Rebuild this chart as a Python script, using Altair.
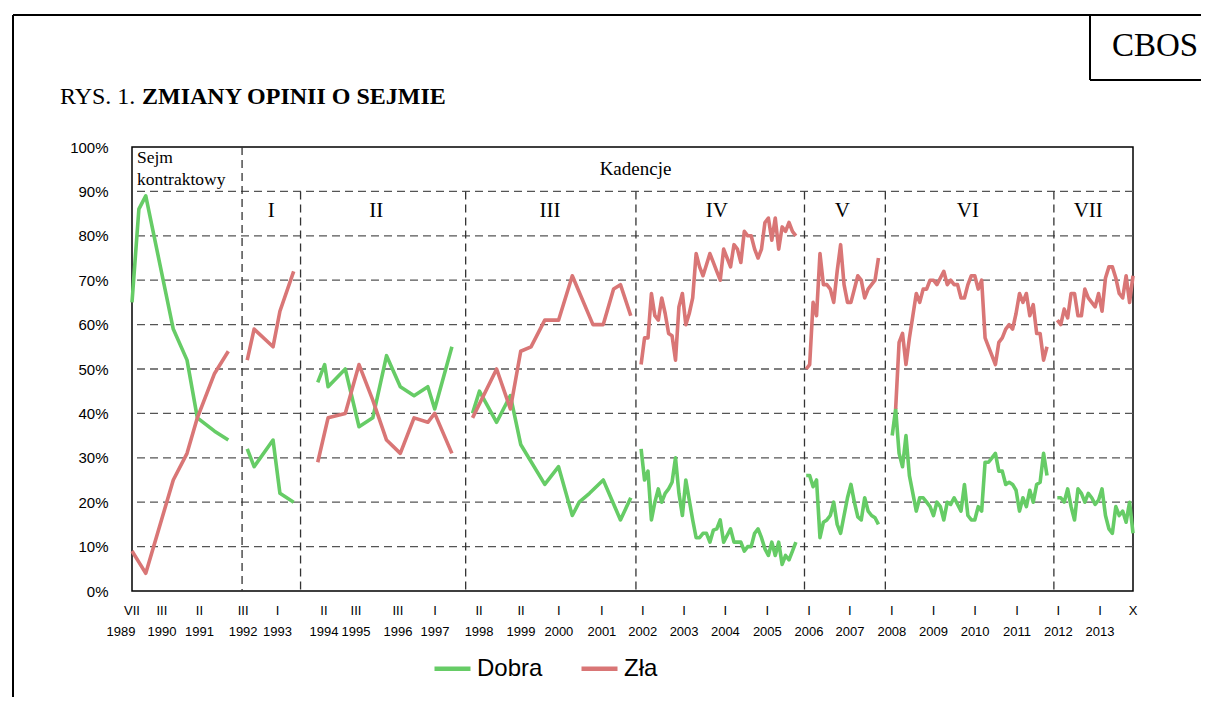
import altair as alt
import pandas as pd

GREEN = "#66cc66"
RED = "#d97676"
SANS = "Liberation Sans"
SERIF = "Liberation Serif"

# x = position in months since January 1989 (0 = I 1989)
# --- Sejm kontraktowy
k_months = [6, 8, 10, 18, 22, 25, 30, 34]
k_dobra = [65, 86, 89, 59, 52, 39, 36, 34]
k_zla = [9, 6.5, 4, 25, 31, 39, 49, 54]
# --- I kadencja
i_months = [39.5, 41.5, 47, 49, 53]
i_dobra = [32, 28, 34, 22, 20]
i_zla = [52, 59, 55, 63, 72]
# --- II kadencja
ii_months_dobra = [60, 62, 63, 68, 72, 76, 80, 84, 88, 92, 94, 99]
ii_dobra = [47, 51, 46, 50, 37, 39, 53, 46, 44, 46, 41, 55]
ii_months_zla = [60, 63, 68, 72, 76, 80, 84, 88, 92, 94, 99]
ii_zla = [29, 39, 40, 51, 43, 34, 31, 39, 38, 40, 31]
# --- III kadencja
iii_months_dobra = [105, 107, 112, 116, 119, 126, 130, 134, 136, 139, 143, 148, 151]
iii_dobra = [40, 45, 38, 44, 33, 24, 28, 17, 20, 22, 25, 16, 21]
iii_months_zla = [105, 112, 116, 119, 122, 126, 130, 134, 140, 143, 146, 148, 151]
iii_zla = [39, 50, 41, 54, 55, 61, 61, 71, 60, 60, 68, 69, 62]
# --- IV kadencja (monthly)
iv_start = 154
iv_dobra = [32, 25, 27, 16, 20, 23, 20, 22, 23, 24.5, 30, 22, 17, 25, 20.5, 16, 12, 12,
            13, 13, 11, 13.7, 14, 16, 11, 12.5, 14, 11, 11, 11, 9, 10, 10, 13, 14, 12,
            9.5, 8, 11, 8, 11, 6, 8, 7, 9, 11]
iv_zla = [51, 57, 57, 67, 62, 61, 66, 62.5, 58, 57.5, 52, 64, 67, 60, 62.5, 66, 76, 73,
          71, 73.5, 76, 74, 72, 70, 77, 75, 73, 78, 77, 74, 81, 80, 80, 77, 75, 77, 83,
          84, 79, 84, 77, 82, 81, 83, 81, 80]
# --- V kadencja (monthly)
v_start = 202
v_dobra = [26, 26, 23.5, 25, 12, 15.5, 16, 17, 20, 15, 13, 17, 21, 24, 20, 16.7, 16, 21,
           18, 17, 16.5, 15]
v_zla = [50, 51, 65, 62, 76, 69, 69, 68, 65, 72, 78, 69, 65, 65, 68, 71, 70, 66, 68, 69,
         70, 75]
# --- VI kadencja (monthly)
vi_start_dobra = 227
vi_dobra = [35, 41, 31, 28, 35, 26, 22, 18, 21, 21, 20, 19, 17, 20, 19, 16, 20, 19.5, 21,
            19.5, 18, 24, 17, 16, 16, 19, 18, 29, 29, 30, 31, 27, 27, 24, 24.5, 24, 22.7,
            18, 21, 19, 22.7, 20, 24, 24.5, 31, 26]
vi_start_zla = 228
vi_zla = [41, 56, 58, 51, 57, 62, 67, 65, 68, 68, 70, 70, 69, 70.5, 72, 69, 70, 69, 69,
          66, 66, 69, 71, 71, 68, 70, 57, 55, 53, 51, 56, 57, 59, 60, 59, 62.5, 67, 65,
          67, 62, 64.5, 58, 58, 52, 55]
# --- VII kadencja (monthly)
vii_start = 275
vii_dobra = [21, 21, 20, 23, 19, 16, 23, 22, 20, 22, 21, 19.5, 20.5, 23, 17, 14, 13, 19,
             17, 18, 15.5, 20, 13]
vii_zla = [61, 60, 63.5, 61.5, 67, 67, 62, 62, 68, 66, 65, 64, 67, 63, 70.5, 73, 73, 70.5,
           67, 66, 71, 65, 71]

# term boundaries (dividers) and term labels
divider_months = [38, 55, 103, 152.5, 201.5, 225, 274]
divider_tops = [100, 90, 90, 90, 90, 90, 90]
term_names = ["I", "II", "III", "IV", "V", "VI", "VII"]
term_label_pos = [46.5, 77, 127.5, 176, 212.5, 249, 284]

# axis tick labels (positions as they appear on the axis)
tick_pos = [6, 14.7, 25.6, 38.3, 48.3, 61.8, 71.1, 83.3, 94.1, 106.9, 119.1, 130.1,
            142.6, 154.5, 166.5, 178.5, 190.7, 202.8, 214.7, 226.9, 239, 251.1, 263.3,
            275.3, 287.4, 297]
tick_roman = ["VII", "III", "II", "III", "I", "II", "III", "III", "I", "II", "II", "I",
              "I", "I", "I", "I", "I", "I", "I", "I", "I", "I", "I", "I", "I", "X"]
tick_years = ["1989", "1990", "1991", "1992", "1993", "1994", "1995", "1996", "1997",
              "1998", "1999", "2000", "2001", "2002", "2003", "2004", "2005", "2006",
              "2007", "2008", "2009", "2010", "2011", "2012", "2013", ""]

y_ticks = [0, 10, 20, 30, 40, 50, 60, 70, 80, 90, 100]
grid_vals = [10, 20, 30, 40, 50, 60, 70, 80, 90]

W, H = 1001, 444

rows = []


def add(period, series, months, values):
    for m, v in zip(months, values):
        rows.append({"period": period, "series": series, "month": m, "value": v})


def monthly(start, values):
    return [start + i for i in range(len(values))]


add("K", "Dobra", k_months, k_dobra)
add("K", "Zła", k_months, k_zla)
add("I", "Dobra", i_months, i_dobra)
add("I", "Zła", i_months, i_zla)
add("II", "Dobra", ii_months_dobra, ii_dobra)
add("II", "Zła", ii_months_zla, ii_zla)
add("III", "Dobra", iii_months_dobra, iii_dobra)
add("III", "Zła", iii_months_zla, iii_zla)
add("IV", "Dobra", monthly(iv_start, iv_dobra), iv_dobra)
add("IV", "Zła", monthly(iv_start, iv_zla), iv_zla)
add("V", "Dobra", monthly(v_start, v_dobra), v_dobra)
add("V", "Zła", monthly(v_start, v_zla), v_zla)
add("VI", "Dobra", monthly(vi_start_dobra, vi_dobra), vi_dobra)
add("VI", "Zła", monthly(vi_start_zla, vi_zla), vi_zla)
add("VII", "Dobra", monthly(vii_start, vii_dobra), vii_dobra)
add("VII", "Zła", monthly(vii_start, vii_zla), vii_zla)
lines_df = pd.DataFrame(rows)

xscale = alt.Scale(domain=[6, 297], nice=False, zero=False)
yscale = alt.Scale(domain=[0, 100], nice=False)

# horizontal dashed grid (+ y axis labels)
grid = alt.Chart(pd.DataFrame({"v": grid_vals})).mark_rule(
    color="#555555", strokeWidth=1.3, strokeDash=[8, 5]
).encode(y=alt.Y("v:Q", scale=yscale, axis=alt.Axis(
    values=y_ticks, labelExpr="datum.value + '%'", labelFont=SANS, labelFontSize=15,
    labelColor="black", labelPadding=24, ticks=False, domain=False, grid=False, title=None)))

# vertical dashed dividers
div_df = pd.DataFrame({"m": divider_months, "top": divider_tops})
dividers = alt.Chart(div_df).mark_rule(
    color="#333333", strokeWidth=1.3, strokeDash=[8, 5]
).encode(
    x=alt.X("m:Q", scale=xscale, axis=None),
    y=alt.Y("top:Q", scale=yscale),
    y2=alt.datum(0),
)

lines = alt.Chart(lines_df).mark_line(strokeWidth=3.6, strokeJoin="round").encode(
    x=alt.X("month:Q", scale=xscale, axis=None),
    y=alt.Y("value:Q", scale=yscale),
    color=alt.Color("series:N", scale=alt.Scale(domain=["Dobra", "Zła"], range=[GREEN, RED]),
                    legend=alt.Legend(
                        orient="none", legendX=300, legendY=501, direction="horizontal",
                        title=None, symbolType="stroke", symbolSize=1296,
                        symbolStrokeWidth=4.5, labelFont=SANS, labelFontSize=24,
                        labelColor="black", labelOffset=4, columnPadding=29,
                        labelLimit=200)),
    detail="period:N",
    order="month:Q",
)

# roman numerals of the terms
roman_df = pd.DataFrame({"m": term_label_pos, "t": term_names})
romans = alt.Chart(roman_df).mark_text(font=SERIF, fontSize=21, color="black",
                                       baseline="middle").encode(
    x=alt.X("m:Q", scale=xscale), y=alt.value(64), text="t:N")

kad = alt.Chart(pd.DataFrame({"t": ["Kadencje"]})).mark_text(
    font=SERIF, fontSize=19, color="black", baseline="middle").encode(
    x=alt.value(W / 2 + 3), y=alt.value(22), text="t:N")

sejm = alt.Chart(pd.DataFrame({"t": [["Sejm", "kontraktowy"]]})).mark_text(
    font=SERIF, fontSize=17.5, color="black", baseline="top", align="left",
    lineHeight=22).encode(x=alt.value(5), y=alt.value(2), text="t:N")

# x tick labels (two rows)
tick_df = pd.DataFrame({"m": tick_pos, "r": tick_roman, "y": tick_years})
tick_r = alt.Chart(tick_df).mark_text(font=SANS, fontSize=13, color="black",
                                      baseline="middle").encode(
    x=alt.X("m:Q", scale=xscale), y=alt.value(H + 20), text="r:N")
tick_y = alt.Chart(tick_df.iloc[1:]).mark_text(font=SANS, fontSize=13, color="black",
                                               baseline="middle").encode(
    x=alt.X("m:Q", scale=xscale), y=alt.value(H + 41), text="y:N")
tick_y0 = alt.Chart(tick_df.iloc[:1]).mark_text(font=SANS, fontSize=13, color="black",
                                                baseline="middle", dx=-11).encode(
    x=alt.X("m:Q", scale=xscale), y=alt.value(H + 41), text="y:N")

# title and frame
title1 = alt.Chart(pd.DataFrame({"t": ["RYS. 1."]})).mark_text(
    font=SERIF, fontSize=24, color="black", align="left", baseline="middle").encode(
    x=alt.value(-72), y=alt.value(-50), text="t:N")
title2 = alt.Chart(pd.DataFrame({"t": ["ZMIANY OPINII O SEJMIE"]})).mark_text(
    font=SERIF, fontSize=24, fontWeight="bold", color="black", align="left",
    baseline="middle").encode(x=alt.value(10), y=alt.value(-50), text="t:N")
cbos = alt.Chart(pd.DataFrame({"t": ["CBOS"]})).mark_text(
    font=SERIF, fontSize=33, color="black", baseline="middle").encode(
    x=alt.value(1023), y=alt.value(-101), text="t:N")

frame_style = dict(color="black", strokeWidth=2)
d1 = pd.DataFrame({"a": [0]})
f_top = alt.Chart(d1).mark_rule(**frame_style).encode(
    x=alt.value(-119), x2=alt.value(1075), y=alt.value(-132))
f_left = alt.Chart(d1).mark_rule(**frame_style).encode(
    x=alt.value(-119), y=alt.value(-132), y2=alt.value(560))
f_cb_v = alt.Chart(d1).mark_rule(**frame_style).encode(
    x=alt.value(958), y=alt.value(-132), y2=alt.value(-67))
f_cb_h = alt.Chart(d1).mark_rule(**frame_style).encode(
    x=alt.value(958), x2=alt.value(1075), y=alt.value(-67))

chart = alt.layer(
    grid, dividers, lines, romans, kad, sejm, tick_r, tick_y, tick_y0,
    title1, title2, cbos, f_top, f_left, f_cb_v, f_cb_h
).properties(
    width=W, height=H,
    autosize=alt.AutoSizeParams(type="none"),
    padding={"left": 124, "top": 139, "right": 68, "bottom": 106},
    background="white",
).configure_view(stroke="black", strokeWidth=1.5)

chart.save("out.html", embed_options={"renderer": "svg", "actions": False})
